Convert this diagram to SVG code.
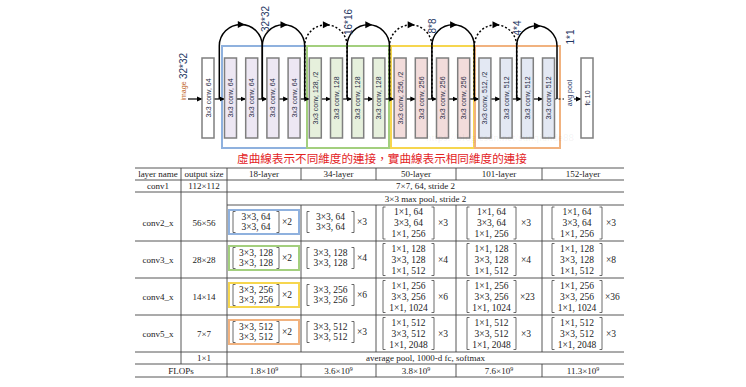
<svg xmlns="http://www.w3.org/2000/svg" width="746" height="387" viewBox="0 0 746 387">
<style>
.bx{stroke:#7f7f7f;stroke-width:1.5}
.w{fill:#ffffff}.pu{fill:#ede7f3}.gr{fill:#e6f0dc}.pk{fill:#f2dcdb}.lb{fill:#e3e8f3}
.bt{font-family:"Liberation Sans",Arial,sans-serif;font-size:7px;fill:#1f2a44;text-anchor:middle;dominant-baseline:central}
.lbl{font-family:"Liberation Sans",Arial,sans-serif;font-size:10px;fill:#1f3864;text-anchor:middle;dominant-baseline:central}
.arc{fill:none;stroke:#000;stroke-width:1.5}
.dot{stroke-dasharray:2 2}
.ln{stroke:#000;stroke-width:1.2;fill:none;marker-end:url(#ah)}
.fr{fill:none;stroke-width:2}
.t{font-family:"Liberation Serif","Times New Roman",serif;font-size:9px;fill:#222;text-anchor:middle}
.c{font-family:"Liberation Serif","Times New Roman",serif;font-size:9.5px;fill:#222;text-anchor:middle}
.m{font-family:"Liberation Serif","Times New Roman",serif;font-size:9.5px;fill:#222;text-anchor:start}
.tl{stroke:#444;stroke-width:0.9;fill:none}
.br{fill:none;stroke:#444;stroke-width:0.8}
.cb{fill:none;stroke-width:2}
</style>
<defs>
<marker id="ah" markerWidth="6" markerHeight="6" refX="5" refY="3" orient="auto" markerUnits="userSpaceOnUse"><path d="M0,0.5 L5.5,3 L0,5.5 z" fill="#000"/></marker>
<path id="tip" d="M4,0 L-3,-3.5 L-3,3.5 z" fill="#000"/>
</defs>
<rect width="746" height="387" fill="#ffffff"/>

<!-- stage frames -->
<g id="frames">
<rect class="fr" x="222" y="46" width="85" height="102" stroke="#8fb1de"/>
<rect class="fr" x="307" y="46" width="82" height="102" stroke="#a3cf7e"/>
<rect class="fr" x="391" y="46" width="83" height="102" stroke="#f6d64f"/>
<rect class="fr" x="475" y="46" width="85" height="102" stroke="#f1b27f"/>
</g>

<!-- connectors -->
<g id="connectors">
<line class="ln" x1="188" y1="99" x2="202" y2="99"/>
<line class="ln" x1="214" y1="99" x2="224.5" y2="99"/>
<line class="ln" x1="236.5" y1="99" x2="245.7" y2="99"/>
<line class="ln" x1="257.7" y1="99" x2="266.9" y2="99"/>
<line class="ln" x1="278.9" y1="99" x2="288.1" y2="99"/>
<line class="ln" x1="300.1" y1="99" x2="309.3" y2="99"/>
<line class="ln" x1="321.3" y1="99" x2="330.5" y2="99"/>
<line class="ln" x1="342.5" y1="99" x2="351.7" y2="99"/>
<line class="ln" x1="363.7" y1="99" x2="372.9" y2="99"/>
<line class="ln" x1="384.9" y1="99" x2="394.1" y2="99"/>
<line class="ln" x1="406.1" y1="99" x2="415.3" y2="99"/>
<line class="ln" x1="427.3" y1="99" x2="436.5" y2="99"/>
<line class="ln" x1="448.5" y1="99" x2="457.7" y2="99"/>
<line class="ln" x1="469.7" y1="99" x2="478.9" y2="99"/>
<line class="ln" x1="490.9" y1="99" x2="500.1" y2="99"/>
<line class="ln" x1="512.1" y1="99" x2="521.3" y2="99"/>
<line class="ln" x1="533.3" y1="99" x2="542.5" y2="99"/>
<line x1="554.5" y1="99" x2="564" y2="99" stroke="#000" stroke-width="1.2" stroke-dasharray="2 2"/>
<line class="ln" x1="574" y1="99" x2="581" y2="99"/>
<path class="arc" d="M219.3,99 V46 A21.5,21.5 0 0 1 262.3,46 V99"/>
<path class="arc" d="M262.3,99 V46 A21.2,21.2 0 0 1 304.7,46 V99"/>
<path class="arc dot" d="M304.7,99 V46 A21.2,21.2 0 0 1 347.1,46 V99"/>
<path class="arc" d="M347.1,99 V46 A21.2,21.2 0 0 1 389.5,46 V99"/>
<path class="arc dot" d="M389.5,99 V46 A21.2,21.2 0 0 1 431.9,46 V99"/>
<path class="arc" d="M431.9,99 V46 A21.2,21.2 0 0 1 474.3,46 V99"/>
<path class="arc dot" d="M474.3,99 V46 A21.2,21.2 0 0 1 516.7,46 V99"/>
<path class="arc" d="M516.7,99 V46 A20.15,20.15 0 0 1 557,46 V99"/>
<use href="#tip" x="240.8" y="24.5"/>
<use href="#tip" x="283.5" y="24.8"/>
<use href="#tip" x="325.9" y="24.8"/>
<use href="#tip" x="368.3" y="24.8"/>
<use href="#tip" x="410.7" y="24.8"/>
<use href="#tip" x="453.1" y="24.8"/>
<use href="#tip" x="495.5" y="24.8"/>
<use href="#tip" x="536.9" y="25.9"/>
</g>

<!-- labels -->
<g id="labels">
<text class="lbl" transform="translate(183,66) rotate(-90)">32*32</text>
<text class="bt" transform="translate(183,91) rotate(-90)" style="fill:#c0651f">image</text>
<text class="lbl" transform="translate(265,19) rotate(-90)">32*32</text>
<text class="lbl" transform="translate(348,22) rotate(-90)">16*16</text>
<text class="lbl" transform="translate(432,26) rotate(-90)">8*8</text>
<text class="lbl" transform="translate(517,28) rotate(-90)">4*4</text>
<text class="lbl" transform="translate(570,37) rotate(-90)">1*1</text>
<text class="bt" transform="translate(569,93) rotate(-90)" style="fill:#1f3864">avg pool</text>
</g>

<!-- nodes -->
<g id="n0"><rect class="bx w" x="202" y="58" width="12" height="80"/><text class="bt" transform="translate(208,98) rotate(-90)">3x3 conv, 64</text></g>
<g id="n1"><rect class="bx pu" x="224.5" y="58" width="12" height="80"/><text class="bt" transform="translate(230.5,98) rotate(-90)">3x3 conv, 64</text></g>
<g id="n2"><rect class="bx pu" x="245.7" y="58" width="12" height="80"/><text class="bt" transform="translate(251.7,98) rotate(-90)">3x3 conv, 64</text></g>
<g id="n3"><rect class="bx pu" x="266.9" y="58" width="12" height="80"/><text class="bt" transform="translate(272.9,98) rotate(-90)">3x3 conv, 64</text></g>
<g id="n4"><rect class="bx pu" x="288.1" y="58" width="12" height="80"/><text class="bt" transform="translate(294.1,98) rotate(-90)">3x3 conv, 64</text></g>
<g id="n5"><rect class="bx gr" x="309.3" y="58" width="12" height="80"/><text class="bt" transform="translate(315.3,98) rotate(-90)">3x3 conv, 128, /2</text></g>
<g id="n6"><rect class="bx gr" x="330.5" y="58" width="12" height="80"/><text class="bt" transform="translate(336.5,98) rotate(-90)">3x3 conv, 128</text></g>
<g id="n7"><rect class="bx gr" x="351.7" y="58" width="12" height="80"/><text class="bt" transform="translate(357.7,98) rotate(-90)">3x3 conv, 128</text></g>
<g id="n8"><rect class="bx gr" x="372.9" y="58" width="12" height="80"/><text class="bt" transform="translate(378.9,98) rotate(-90)">3x3 conv, 128</text></g>
<g id="n9"><rect class="bx pk" x="394.1" y="58" width="12" height="80"/><text class="bt" transform="translate(400.1,98) rotate(-90)">3x3 conv, 256, /2</text></g>
<g id="n10"><rect class="bx pk" x="415.3" y="58" width="12" height="80"/><text class="bt" transform="translate(421.3,98) rotate(-90)">3x3 conv, 256</text></g>
<g id="n11"><rect class="bx pk" x="436.5" y="58" width="12" height="80"/><text class="bt" transform="translate(442.5,98) rotate(-90)">3x3 conv, 256</text></g>
<g id="n12"><rect class="bx pk" x="457.7" y="58" width="12" height="80"/><text class="bt" transform="translate(463.7,98) rotate(-90)">3x3 conv, 256</text></g>
<g id="n13"><rect class="bx lb" x="478.9" y="58" width="12" height="80"/><text class="bt" transform="translate(484.9,98) rotate(-90)">3x3 conv, 512, /2</text></g>
<g id="n14"><rect class="bx lb" x="500.1" y="58" width="12" height="80"/><text class="bt" transform="translate(506.1,98) rotate(-90)">3x3 conv, 512</text></g>
<g id="n15"><rect class="bx lb" x="521.3" y="58" width="12" height="80"/><text class="bt" transform="translate(527.3,98) rotate(-90)">3x3 conv, 512</text></g>
<g id="n16"><rect class="bx lb" x="542.5" y="58" width="12" height="80"/><text class="bt" transform="translate(548.5,98) rotate(-90)">3x3 conv, 512</text></g>
<g id="fc"><rect class="bx w" x="581" y="58" width="12" height="80"/><text class="bt" transform="translate(587,98) rotate(-90)">fc 10</text></g>

<text x="500" y="141" font-family="Liberation Serif, serif" font-size="11" fill="#000" fill-opacity="0.07" text-anchor="middle">https://blog.csdn.net/sunqiande88</text>

<text x="382" y="163" font-family="'Noto Sans CJK TC', sans-serif" font-size="11.6" fill="#e3231f" text-anchor="middle">虛曲線表示不同維度的連接，實曲線表示相同維度的連接</text>

<!-- table -->
<g id="table">
<path class="tl" d="M135,168H624 M135,180H624 M135,192H624 M227,205H624 M135,241H624 M135,278H624 M135,315H624 M135,352H624 M135,364H624 M135,377H624"/>
<path class="tl" d="M181,168V364 M227,168V377 M301,168V180 M376,168V180 M456,168V180 M542,168V180 M301,205V352 M376,205V352 M456,205V352 M542,205V352 M301,364V377 M376,364V377 M456,364V377 M542,364V377"/>
<text class="t" x="158" y="177">layer name</text>
<text class="t" x="204" y="177">output size</text>
<text class="t" x="264" y="177">18-layer</text>
<text class="t" x="338.5" y="177">34-layer</text>
<text class="t" x="416" y="177">50-layer</text>
<text class="t" x="499" y="177">101-layer</text>
<text class="t" x="583" y="177">152-layer</text>
<text class="t" x="158" y="189">conv1</text>
<text class="t" x="204" y="189">112×112</text>
<text class="t" x="425.5" y="189">7×7, 64, stride 2</text>
<text class="t" x="425.5" y="201.5">3×3 max pool, stride 2</text>
<text class="t" x="158" y="226">conv2_x</text>
<text class="t" x="204" y="226">56×56</text>
<text class="t" x="158" y="262.5">conv3_x</text>
<text class="t" x="204" y="262.5">28×28</text>
<text class="t" x="158" y="299.5">conv4_x</text>
<text class="t" x="204" y="299.5">14×14</text>
<text class="t" x="158" y="336.5">conv5_x</text>
<text class="t" x="204" y="336.5">7×7</text>
<text class="t" x="204" y="361">1×1</text>
<text class="t" x="425.5" y="361">average pool, 1000-d fc, softmax</text>
<text class="t" x="181" y="374">FLOPs</text>
<text class="t" x="264" y="374">1.8×10<tspan font-size="6" dy="-3.5">9</tspan></text>
<text class="t" x="338.5" y="374">3.6×10<tspan font-size="6" dy="-3.5">9</tspan></text>
<text class="t" x="416" y="374">3.8×10<tspan font-size="6" dy="-3.5">9</tspan></text>
<text class="t" x="499" y="374">7.6×10<tspan font-size="6" dy="-3.5">9</tspan></text>
<text class="t" x="583" y="374">11.3×10<tspan font-size="6" dy="-3.5">9</tspan></text>

<!-- colored boxes in 18-layer column -->
<rect class="cb" x="229" y="210" width="70" height="24" stroke="#8fb1de"/>
<rect class="cb" x="229" y="246" width="70" height="24" stroke="#a3cf7e"/>
<rect class="cb" x="229" y="283" width="70" height="24" stroke="#f6d64f"/>
<rect class="cb" x="229" y="320" width="70" height="24" stroke="#f1b27f"/>

<!-- brackets: 18-layer & 34-layer (2 lines) -->
<path class="br" d="M235.5,211.5H233V232.5H235.5 M276.5,211.5H279V232.5H276.5 M309.5,211.5H307V232.5H309.5 M351.5,211.5H354V232.5H351.5
M235.5,247.5H233V268.5H235.5 M276.5,247.5H279V268.5H276.5 M309.5,247.5H307V268.5H309.5 M351.5,247.5H354V268.5H351.5
M235.5,284.5H233V305.5H235.5 M276.5,284.5H279V305.5H276.5 M309.5,284.5H307V305.5H309.5 M351.5,284.5H354V305.5H351.5
M235.5,321.5H233V342.5H235.5 M276.5,321.5H279V342.5H276.5 M309.5,321.5H307V342.5H309.5 M351.5,321.5H354V342.5H351.5"/>
<!-- brackets: 50/101/152 (3 lines) -->
<path class="br" d="M385.5,207H383V239H385.5 M431.5,207H434V239H431.5 M469.5,207H467V239H469.5 M513.5,207H516V239H513.5 M554.5,207H552V239H554.5 M599.5,207H602V239H599.5
M385.5,243.5H383V275.5H385.5 M431.5,243.5H434V275.5H431.5 M469.5,243.5H467V275.5H469.5 M513.5,243.5H516V275.5H513.5 M554.5,243.5H552V275.5H554.5 M599.5,243.5H602V275.5H599.5
M385.5,280.5H383V312.5H385.5 M431.5,280.5H434V312.5H431.5 M469.5,280.5H467V312.5H469.5 M513.5,280.5H516V312.5H513.5 M554.5,280.5H552V312.5H554.5 M599.5,280.5H602V312.5H599.5
M385.5,317.5H383V349.5H385.5 M431.5,317.5H434V349.5H431.5 M469.5,317.5H467V349.5H469.5 M513.5,317.5H516V349.5H513.5 M554.5,317.5H552V349.5H554.5 M599.5,317.5H602V349.5H599.5"/>

<!-- conv2_x -->
<text class="c" x="256" y="220.2">3×3, 64</text><text class="c" x="256" y="230.2">3×3, 64</text><text class="m" x="282" y="225.2">×2</text>
<text class="c" x="330.5" y="220.2">3×3, 64</text><text class="c" x="330.5" y="230.2">3×3, 64</text><text class="m" x="357" y="225.2">×3</text>
<text class="c" x="408.5" y="215.2">1×1, 64</text><text class="c" x="408.5" y="226.2">3×3, 64</text><text class="c" x="408.5" y="237.2">1×1, 256</text><text class="m" x="438" y="226.2">×3</text>
<text class="c" x="491.5" y="215.2">1×1, 64</text><text class="c" x="491.5" y="226.2">3×3, 64</text><text class="c" x="491.5" y="237.2">1×1, 256</text><text class="m" x="521" y="226.2">×3</text>
<text class="c" x="577" y="215.2">1×1, 64</text><text class="c" x="577" y="226.2">3×3, 64</text><text class="c" x="577" y="237.2">1×1, 256</text><text class="m" x="606" y="226.2">×3</text>

<!-- conv3_x -->
<text class="c" x="256" y="256.2">3×3, 128</text><text class="c" x="256" y="266.2">3×3, 128</text><text class="m" x="282" y="261.2">×2</text>
<text class="c" x="330.5" y="256.2">3×3, 128</text><text class="c" x="330.5" y="266.2">3×3, 128</text><text class="m" x="357" y="261.2">×4</text>
<text class="c" x="408.5" y="251.7">1×1, 128</text><text class="c" x="408.5" y="262.7">3×3, 128</text><text class="c" x="408.5" y="273.7">1×1, 512</text><text class="m" x="438" y="262.7">×4</text>
<text class="c" x="491.5" y="251.7">1×1, 128</text><text class="c" x="491.5" y="262.7">3×3, 128</text><text class="c" x="491.5" y="273.7">1×1, 512</text><text class="m" x="521" y="262.7">×4</text>
<text class="c" x="577" y="251.7">1×1, 128</text><text class="c" x="577" y="262.7">3×3, 128</text><text class="c" x="577" y="273.7">1×1, 512</text><text class="m" x="606" y="262.7">×8</text>

<!-- conv4_x -->
<text class="c" x="256" y="293.2">3×3, 256</text><text class="c" x="256" y="303.2">3×3, 256</text><text class="m" x="282" y="298.2">×2</text>
<text class="c" x="330.5" y="293.2">3×3, 256</text><text class="c" x="330.5" y="303.2">3×3, 256</text><text class="m" x="357" y="298.2">×6</text>
<text class="c" x="408.5" y="288.7">1×1, 256</text><text class="c" x="408.5" y="299.7">3×3, 256</text><text class="c" x="408.5" y="310.7">1×1, 1024</text><text class="m" x="438" y="299.7">×6</text>
<text class="c" x="491.5" y="288.7">1×1, 256</text><text class="c" x="491.5" y="299.7">3×3, 256</text><text class="c" x="491.5" y="310.7">1×1, 1024</text><text class="m" x="520" y="299.7">×23</text>
<text class="c" x="577" y="288.7">1×1, 256</text><text class="c" x="577" y="299.7">3×3, 256</text><text class="c" x="577" y="310.7">1×1, 1024</text><text class="m" x="605" y="299.7">×36</text>

<!-- conv5_x -->
<text class="c" x="256" y="330.2">3×3, 512</text><text class="c" x="256" y="340.2">3×3, 512</text><text class="m" x="282" y="335.2">×2</text>
<text class="c" x="330.5" y="330.2">3×3, 512</text><text class="c" x="330.5" y="340.2">3×3, 512</text><text class="m" x="357" y="335.2">×3</text>
<text class="c" x="408.5" y="325.7">1×1, 512</text><text class="c" x="408.5" y="336.7">3×3, 512</text><text class="c" x="408.5" y="347.7">1×1, 2048</text><text class="m" x="438" y="336.7">×3</text>
<text class="c" x="491.5" y="325.7">1×1, 512</text><text class="c" x="491.5" y="336.7">3×3, 512</text><text class="c" x="491.5" y="347.7">1×1, 2048</text><text class="m" x="521" y="336.7">×3</text>
<text class="c" x="577" y="325.7">1×1, 512</text><text class="c" x="577" y="336.7">3×3, 512</text><text class="c" x="577" y="347.7">1×1, 2048</text><text class="m" x="606" y="336.7">×3</text>
</g>
</svg>
